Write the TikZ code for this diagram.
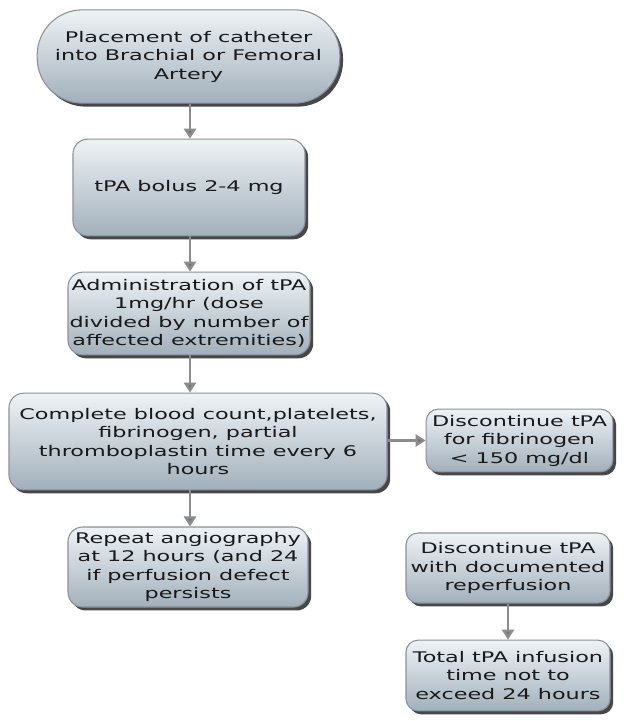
\documentclass[tikz,border=0pt]{standalone}
\usepackage{fontspec}
\setmainfont[FakeStretch=1.52]{DejaVu Sans}
\usetikzlibrary{arrows.meta,shadows,shapes.misc}
\definecolor{boxtop}{HTML}{EEF3F6}
\definecolor{boxbot}{HTML}{A2B0BB}
\definecolor{boxline}{HTML}{8A9299}
\definecolor{arrowc}{HTML}{8C8C8C}
\definecolor{arrowtip}{HTML}{6E6E6E}
\definecolor{shadowc}{HTML}{333333}
\begin{document}
\begin{tikzpicture}[x=0.75pt,y=-0.75pt,
  flowbox/.style={draw=boxline, line width=0.8pt, top color=boxtop, bottom color=boxbot,
    rounded corners=11pt, align=center, inner sep=1pt,
    font=\fontsize{11pt}{13.9pt}\selectfont, text=black!90,
    drop shadow={shadow xshift=2.4pt, shadow yshift=-2.6pt, fill=shadowc, opacity=0.9}},
  flowarrow/.style={draw=arrowc, line width=2.2pt, -{Triangle[width=9pt,length=7.5pt,fill=arrowtip]}}]
\useasboundingbox (0,0) rectangle (624,721);
\fill[white] (0,0) rectangle (624,721);

\node[flowbox, rounded corners=34pt, minimum width=227pt, minimum height=70pt] (n1) at (188.5,56.5)
  {Placement of catheter\\into Brachial or Femoral\\Artery};
\node[flowbox, minimum width=174pt, minimum height=72.5pt] (n2) at (189,187.5) {tPA bolus 2-4 mg};
\node[flowbox, minimum width=181.5pt, minimum height=62pt] (n3) at (189,313.5)
  {Administration of tPA\\1mg/hr (dose\\divided by number of\\affected extremities)};
\node[flowbox, minimum width=283.5pt, minimum height=72.5pt] (n4) at (198,441.5)
  {Complete blood count,platelets,\\fibrinogen, partial\\thromboplastin time every 6\\hours};
\node[flowbox, rounded corners=9pt, minimum width=140pt, minimum height=47pt] (n5) at (519.5,440.5)
  {Discontinue tPA\\for fibrinogen\\< 150 mg/dl};
\node[flowbox, minimum width=180pt, minimum height=60pt] (n6) at (188,567)
  {Repeat angiography\\at 12 hours (and 24\\if perfusion defect\\persists};
\node[flowbox, rounded corners=9pt, minimum width=153pt, minimum height=52.5pt] (n7) at (508,568)
  {Discontinue tPA\\with documented\\reperfusion};
\node[flowbox, rounded corners=9pt, minimum width=153pt, minimum height=53pt] (n8) at (508,675.5)
  {Total tPA infusion\\time not to\\exceed 24 hours};

\draw[flowarrow] (n1.south -| 190,0) -- (n2.north -| 190,0);
\draw[flowarrow] (n2.south -| 190,0) -- (n3.north -| 190,0);
\draw[flowarrow] (n3.south -| 190,0) -- (n4.north -| 190,0);
\draw[flowarrow] (n4.south -| 190,0) -- (n6.north -| 190,0);
\draw[flowarrow] (n4.east |- n5.west) -- (n5.west);
\draw[flowarrow] (n7.south) -- (n8.north);
\end{tikzpicture}
\end{document}
